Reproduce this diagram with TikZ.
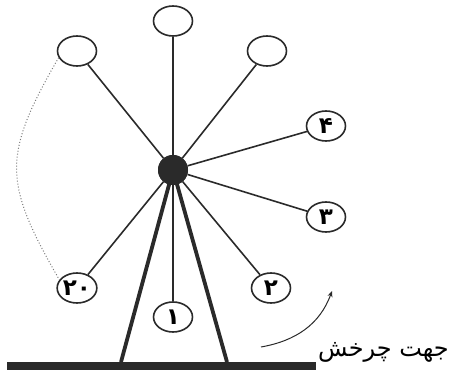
\documentclass[tikz,border=0pt]{standalone}
\usepackage{fontspec}
\newfontfamily\persianfont[Script=Arabic]{DejaVu Sans}
\TeXXeTstate=1
\usepackage{xcolor}
\definecolor{lineDark}{HTML}{2A2A2A}
\definecolor{dotGray}{HTML}{7A7A7A}
\usepackage{tikz}
\usetikzlibrary{
    shapes.geometric,
    arrows.meta,
    positioning
}
\tikzset{
    % Cabins - open ellipses on the wheel
    cabin/.style={
        ellipse,
        draw=lineDark,
        line width=1.6pt,
        fill=white,
        minimum width=39pt,
        minimum height=30pt,
        inner sep=0pt,
        font=\persianfont\bfseries\fontsize{23}{23}\selectfont,
    },
    % Hub of the wheel
    hub/.style={
        circle,
        fill=lineDark,
        minimum size=30pt,
        inner sep=0pt,
    },
    % Thin spokes
    spoke/.style={
        draw=lineDark,
        line width=1.6pt,
    },
    % Thick supporting legs
    leg/.style={
        draw=lineDark,
        line width=3.8pt,
    },
    % Ground bar
    ground/.style={
        rectangle,
        fill=lineDark,
        minimum width=309pt,
        minimum height=8pt,
        inner sep=0pt,
    },
    % Direction arrow
    turn arrow/.style={
        -{Stealth[length=6pt, width=5pt]},
        draw=lineDark,
        line width=1pt,
    },
}

\begin{document}
\begin{tikzpicture}[x=1pt, y=-1pt]
    \useasboundingbox (0,0) rectangle (450,371);

    % ground and legs
    \node (base) [ground] at (161.5,366) {};
    \coordinate (footL) at (121,362);
    \coordinate (footR) at (227,362);

    \node (hub) [hub] at (173,170) {};

    % cabins
    \node (top) [cabin] at (173,21) {};
    \node (upL) [cabin] at (77,51) {};
    \node (upR) [cabin] at (267,51) {};
    \node (c4) [cabin] at (326,126) {۴};
    \node (c3) [cabin] at (326,217) {۳};
    \node (c2) [cabin] at (271,288) {۲};
    \node (c1) [cabin] at (173,317) {۱};
    \node (c20) [cabin] at (77,288) {۲۰};

    \draw [leg] (hub.center) -- (footL);
    \draw [leg] (hub.center) -- (footR);

    \foreach \c in {top, upL, upR, c4, c3, c2, c1, c20}
        \draw [spoke] (hub) -- (\c);

    \node (hubtop) [hub] at (hub.center) {};

    % omitted cabins
    \draw [dotGray, line width=1pt, dotted] (upL.200) to[out=240, in=120, looseness=1.3] (c20.155);

    % direction of rotation
    \node (label) [anchor=east, font=\persianfont\fontsize{24}{24}\selectfont, inner sep=0pt]
        at (449,352) {\beginR جهت چرخش\endR};
    \coordinate (arrowStart) at (261,347);
    \coordinate (arrowEnd) at (332,291);
    \draw [turn arrow] (arrowStart) to[out=10, in=-110] (arrowEnd);
\end{tikzpicture}
\end{document}
